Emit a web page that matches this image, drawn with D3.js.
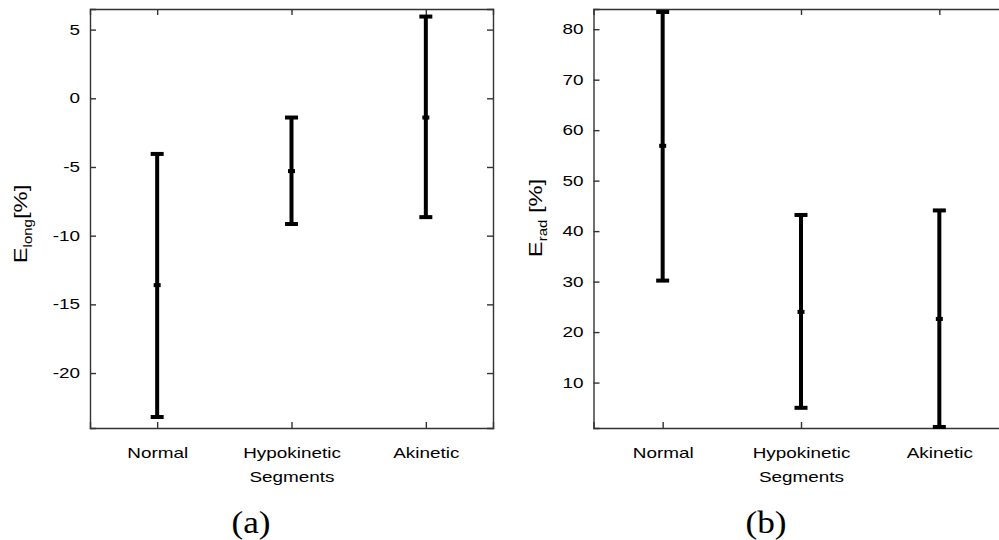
<!DOCTYPE html>
<html lang="en">
  <head>
    <meta charset="UTF-8" />
    <title>Strain by segment type</title>
    <style>
      body {
        margin: 0;
        background: #fff;
      }
      svg {
        display: block;
        font-family: 'Liberation Sans', Arial, sans-serif;
      }
      .axis path,
      .axis line {
        stroke: #333;
        stroke-width: 1.4;
        fill: none;
      }
      .axis text {
        font-family: 'Liberation Sans', Arial, sans-serif;
        font-size: 14px;
        fill: #000;
      }
      .bar {
        stroke: #000;
        stroke-width: 4;
      }
      .panel-tag {
        font-family: 'Liberation Serif', 'Times New Roman', serif;
        font-size: 32px;
        fill: #000;
      }
      .ylabel {
        font-size: 19px;
        fill: #000;
      }
    </style>
  </head>
  <body>
    <div id="chart"></div>

    <script src="https://d3js.org/d3.v7.min.js"></script>
    <script>
      const categories = ['Normal', 'Hypokinetic\nSegments', 'Akinetic'];

      // (a) longitudinal strain
      const elongMean = [-13.6, -5.3, -1.4];
      const elongLow = [-23.2, -9.15, -8.65];
      const elongHigh = [-4.05, -1.4, 5.95];
      const elongTicks = [-20, -15, -10, -5, 0, 5];

      // (b) radial strain
      const eradMean = [56.9, 24.0, 22.6];
      const eradLow = [30.2, 5.0, 1.2];
      const eradHigh = [83.4, 43.2, 44.1];
      const eradTicks = [10, 20, 30, 40, 50, 60, 70, 80];

      // the source figure has its lettering stretched sideways
      const stretch = 1.35;

      const svg = d3
        .select('#chart')
        .append('svg')
        .attr('width', 999)
        .attr('height', 540);

      function drawPanel(opts) {
        const { left, right, top, bottom } = opts;
        const w = right - left;
        const h = bottom - top;

        const g = svg.append('g').attr('transform', `translate(${left}, ${top})`);

        const x = d3.scaleLinear().domain([0.5, 3.5]).range([0, w]);
        const y = d3.scaleLinear().domain(opts.domain).range([h, 0]);
        const idx = categories.map((c, i) => i + 1);

        // frame + inward ticks (plain hyphen for negatives, like the source)
        const yAxis = g
          .append('g')
          .attr('class', 'axis')
          .call(
            d3
              .axisLeft(y)
              .tickValues(opts.ticks)
              .tickSize(-6)
              .tickPadding(10)
              .tickFormat((d) => String(d))
          );

        yAxis
          .selectAll('.tick text')
          .attr('x', -10 / stretch)
          .attr('transform', `scale(${stretch}, 1)`);

        g.append('g')
          .attr('class', 'axis')
          .attr('transform', `translate(${w}, 0)`)
          .call(d3.axisRight(y).tickValues(opts.ticks).tickSize(-6).tickFormat(''));

        g.append('g')
          .attr('class', 'axis')
          .call(d3.axisTop(x).tickValues(idx).tickSize(-6).tickFormat(''));

        const xAxis = g
          .append('g')
          .attr('class', 'axis')
          .attr('transform', `translate(0, ${h})`)
          .call(
            d3
              .axisBottom(x)
              .tickValues(idx)
              .tickSize(-6)
              .tickPadding(20)
              .tickFormat((d) => categories[d - 1])
          );

        // split two-line category labels
        xAxis.selectAll('.tick text').each(function (d) {
          const parts = categories[d - 1].split('\n');
          const t = d3
            .select(this)
            .text(null)
            .attr('transform', `scale(${stretch}, 1)`);
          parts.forEach((p, i) => {
            t.append('tspan')
              .attr('x', 0)
              .attr('dy', i === 0 ? '0.71em' : '1.72em')
              .text(p);
          });
        });

        // error bars
        const half = 6.5;
        idx.forEach((d, i) => {
          const cx = x(d);
          g.append('line')
            .attr('class', 'bar')
            .attr('x1', cx)
            .attr('x2', cx)
            .attr('y1', y(opts.low[i]))
            .attr('y2', y(opts.high[i]));
          [opts.low[i], opts.high[i]].forEach((v) => {
            g.append('line')
              .attr('class', 'bar')
              .attr('x1', cx - half)
              .attr('x2', cx + half)
              .attr('y1', y(v))
              .attr('y2', y(v));
          });
          g.append('rect')
            .attr('x', cx - 3.5)
            .attr('y', y(opts.mean[i]) - 2)
            .attr('width', 7)
            .attr('height', 4)
            .attr('fill', '#000');
        });

        // y label with subscript
        const lab = svg
          .append('text')
          .attr('class', 'ylabel')
          .attr('text-anchor', 'middle')
          .attr(
            'transform',
            `translate(${opts.labelX}, ${opts.labelY}) rotate(-90) scale(1.25, 1)`
          );
        lab.append('tspan').text('E');
        lab.append('tspan').attr('font-size', '12px').attr('dy', '5').text(opts.sub);
        lab.append('tspan').attr('dy', '-5').text(opts.unit);

        svg
          .append('text')
          .attr('class', 'panel-tag')
          .attr('text-anchor', 'middle')
          .attr('transform', `translate(${opts.tagX}, 533) scale(1.1, 1)`)
          .text(opts.tag);
      }

      drawPanel({
        left: 90,
        right: 493,
        top: 9,
        bottom: 428,
        domain: [-24, 6.5],
        ticks: elongTicks,
        mean: elongMean,
        low: elongLow,
        high: elongHigh,
        sub: 'long',
        unit: '[%]',
        labelX: 27,
        labelY: 224,
        tag: '(a)',
        tagX: 251,
      });

      drawPanel({
        left: 593.5,
        right: 1008.5,
        top: 9,
        bottom: 428,
        domain: [1, 84],
        ticks: eradTicks,
        mean: eradMean,
        low: eradLow,
        high: eradHigh,
        sub: 'rad',
        unit: ' [%]',
        labelX: 542,
        labelY: 218,
        tag: '(b)',
        tagX: 766,
      });
    </script>
  </body>
</html>
